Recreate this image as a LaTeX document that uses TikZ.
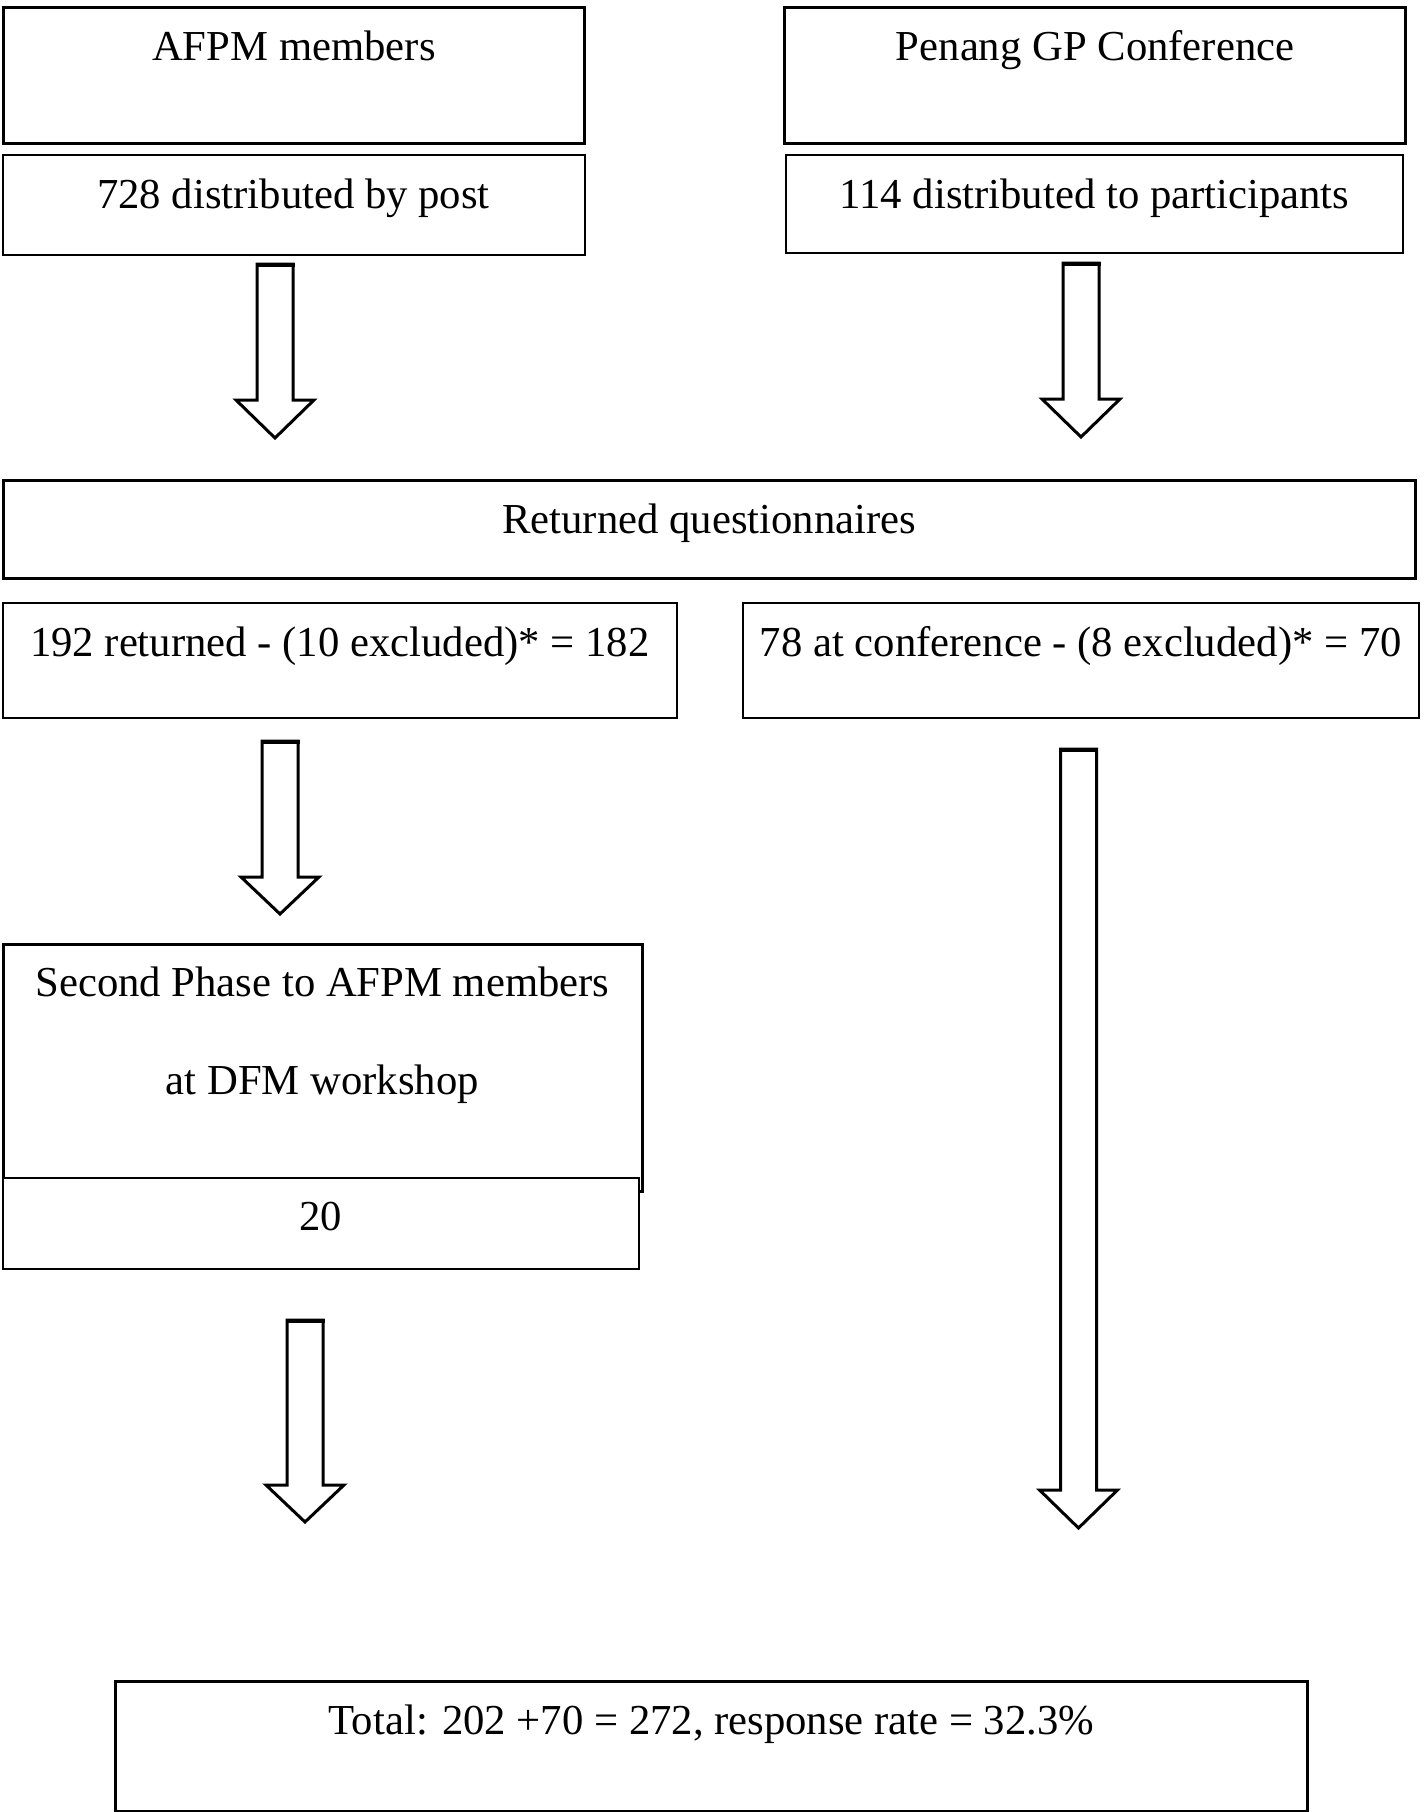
\documentclass[tikz,border=0pt]{standalone}
\usepackage{fontspec}
\setmainfont{Liberation Serif}
\usetikzlibrary{calc, positioning}

\tikzset{
  box/.style={draw, line width=2pt, inner sep=0pt, anchor=north west, align=center,
    font=\fontsize{42.7}{50}\selectfont, text height=53pt},
  heavybox/.style={box, line width=3pt},
  arrowline/.style={draw, line width=3pt, fill=white, line join=miter},
  pics/blockdown/.style 2 args={code={
    \draw[arrowline] (-18,0) -- (18,0) -- (18,#2) -- (39,#2) -- (0,#1)
      -- (-39,#2) -- (-18,#2) -- cycle;
    \draw[line width=4pt] (-19.5,0.5) -- (19.5,0.5);
  }}
}

\begin{document}
\begin{tikzpicture}[x=1pt, y=-1pt]
\useasboundingbox (0,0) rectangle (1424,1812);

% first row
\node[heavybox, minimum width=581.8pt, minimum height=136pt, text depth=83pt] (afpm) at (1.5,6) {AFPM members};
\node[box, minimum width=582pt, minimum height=100pt, text depth=47pt] (post) at (1.5,154) {728 distributed by post};
\node[heavybox, minimum width=621.3pt, minimum height=136pt, text depth=83pt] (penang) at (783,6) {Penang GP Conference};
\node[box, minimum width=617pt, minimum height=98pt, text depth=45pt] (partic) at (785,154) {114 distributed to participants};

\pic at (275,264) {blockdown={174}{136}};
\pic at (1081,263) {blockdown={174}{136}};

% returned
\node[heavybox, minimum width=1412.5pt, minimum height=98.3pt, text depth=45.3pt] (returned) at (1.5,478.7) {Returned questionnaires};
\node[box, minimum width=674.5pt, minimum height=115pt, text depth=62pt] (left182) at (1.5,602.3) {192 returned - (10 excluded)* = 182};
\node[box, minimum width=675.5pt, minimum height=115pt, text depth=62pt] (right70) at (742,602.3) {78 at conference - (8 excluded)* = 70};

\pic at (280,741) {blockdown={173}{136}};
\pic at (1078.5,749) {blockdown={779}{741}};

% second phase
\node[heavybox, minimum width=639pt, minimum height=247pt, text height=150pt, text depth=97pt,
  font=\fontsize{42.7}{98}\selectfont] (second) at (1.5,943) {Second Phase to AFPM members\\at DFM workshop};
\node[box, fill=white, minimum width=636.7pt, minimum height=90.2pt, text height=52pt, text depth=38.2pt] (twenty) at (1.5,1177.3) {20};

\pic at (305,1320) {blockdown={202}{165}};

% total
\node[heavybox, minimum width=1191.4pt, minimum height=130.6pt, text depth=77.6pt] (total) at (114.3,1679.7) {Total: 202 +70 = 272, response rate = 32.3\%};
\end{tikzpicture}
\end{document}
